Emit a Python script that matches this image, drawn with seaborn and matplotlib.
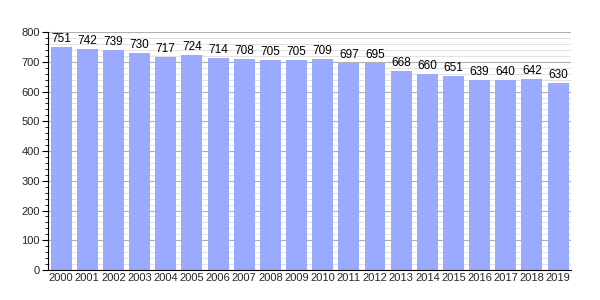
import matplotlib
matplotlib.use("Agg")
import matplotlib.pyplot as plt
import seaborn as sns
import pandas as pd
from matplotlib.ticker import MultipleLocator

years = [str(y) for y in range(2000, 2020)]
values = [751, 742, 739, 730, 717, 724, 714, 708, 705, 705, 709, 697, 695, 668, 660, 651, 639, 640, 642, 630]

df = pd.DataFrame({"year": years, "value": values})

sns.set_style("white")
plt.rcParams['font.family'] = ['Liberation Sans', 'DejaVu Sans']

fig = plt.figure(figsize=(6, 3), dpi=100)
ax = fig.add_axes([0.08, 0.1, 0.872, 0.793])

ax.set_axisbelow(True)
ax.yaxis.set_major_locator(MultipleLocator(100))
ax.yaxis.set_minor_locator(MultipleLocator(20))
ax.grid(which='major', axis='y', color='#b0b0b0', linewidth=0.8)
ax.grid(which='minor', axis='y', color='#dddddd', linewidth=0.6)

sns.barplot(data=df, x="year", y="value", color="#99aaff", saturation=1, width=0.8,
            edgecolor='none', linewidth=0, ax=ax, zorder=2)

for i, v in enumerate(values):
    ax.text(i, v + 7, str(v), ha='center', va='bottom', fontsize=8.5, color='black')

ax.set_ylim(0, 800)
ax.set_xlim(-0.5, len(years) - 0.5)
ax.set_xlabel("")
ax.set_ylabel("")
for s in ['top', 'right']:
    ax.spines[s].set_visible(False)
ax.spines['left'].set_color('black')
ax.spines['bottom'].set_color('black')
ax.tick_params(axis='y', which='major', left=True, length=4, labelsize=8, color='black', pad=2)
ax.tick_params(axis='y', which='minor', left=True, length=2, color='black')
ax.tick_params(axis='x', labelsize=8, length=0, pad=2)

fig.savefig("out.png", dpi=100)
